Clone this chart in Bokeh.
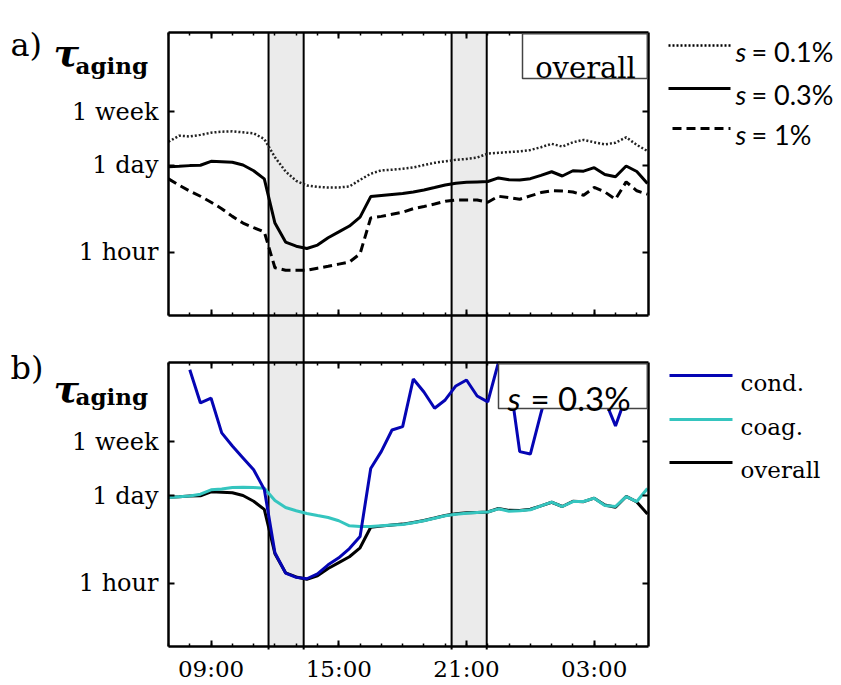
import math
from bokeh.plotting import figure
from bokeh.models import (Range1d, FixedTicker, LinearAxis, LogAxis, LogScale,
                          Label, BoxAnnotation, Arrow)
from bokeh.embed import file_html
from bokeh.resources import INLINE

nan = float("nan")

# ---------------- data (time in hours since 00:00 of day 1, tau in hours) ----
time_h = [7.0, 7.5, 8.0, 8.5, 9.0, 9.5, 10.0, 10.5, 11.0, 11.5, 12.0, 12.5,
          13.0, 13.5, 14.0, 14.5, 15.0, 15.5, 16.0, 16.5, 17.0, 17.5, 18.0,
          18.5, 19.0, 19.5, 20.0, 20.5, 21.0, 21.5, 22.0, 22.5, 23.0, 23.5,
          24.0, 24.5, 25.0, 25.5, 26.0, 26.5, 27.0, 27.5, 28.0, 28.5, 29.0,
          29.5]

tau_s01 = [56, 70, 68, 72, 78, 81, 82, 79, 76, 62, 32, 19, 13.5, 11.4, 10.8,
           10.6, 10.6, 11.0, 14.0, 17.5, 19.8, 20.2, 21.0, 22.0, 24.0, 26.0,
           27.5, 29.0, 30.0, 31.5, 36.5, 37.5, 38.5, 39.5, 41.5, 46, 52, 47,
           55, 60, 55, 51, 54, 66, 50, 40]

tau_s03 = [22.6, 23.0, 23.5, 23.8, 27.5, 27.0, 26.5, 24.0, 19.5, 14.5, 2.9,
           1.45, 1.25, 1.15, 1.3, 1.7, 2.1, 2.6, 3.6, 7.6, 7.9, 8.2, 8.5, 9.0,
           9.7, 10.6, 11.6, 12.4, 12.8, 13.0, 13.2, 15.0, 14.0, 13.9, 14.6,
           16.5, 18.8, 16.1, 19.5, 19.2, 21.8, 17.0, 15.7, 23.2, 19.0, 12.3]

tau_s1 = [14.5, 11.5, 9.3, 7.7, 6.2, 4.9, 3.7, 2.9, 2.45, 2.1, 0.57, 0.52,
          0.52, 0.52, 0.56, 0.6, 0.65, 0.7, 0.95, 3.5, 3.7, 4.0, 4.3, 4.9, 5.3,
          5.8, 6.4, 6.7, 6.7, 6.7, 6.2, 7.7, 7.3, 6.9, 7.8, 8.8, 9.4, 9.3, 9.0,
          8.0, 10.6, 9.0, 6.9, 13.0, 9.4, 8.3]

tau_cond = [nan, nan, 2300, 690, 820, 233, 145, 94, 61, 30, 3.0, 1.44, 1.23,
            1.17, 1.4, 1.94, 2.5, 3.5, 5.4, 64, 119, 259, 293, 1650, 1030,
            570, 770, 1280, 1590, 890, 720, 3000, 1900, 118, 108, 480, 2000,
            2200, 2000, 1800, 2000, 770, 300, 890, 1500, 1500]

tau_coag = [22.3, 23.0, 23.5, 25.2, 29.5, 30.5, 32.0, 32.5, 32.0, 31.3, 20.0,
            15.5, 13.8, 12.5, 11.6, 10.8, 9.6, 8.0, 7.8, 7.8, 8.0, 8.2, 8.4,
            8.9, 9.6, 10.5, 11.5, 12.2, 12.6, 12.9, 13.2, 14.8, 13.6, 13.8,
            14.3, 16.5, 18.9, 16.1, 19.3, 19.3, 21.8, 16.7, 16.1, 23.1, 19.3,
            31.0]

band_start = [11.7, 20.3]
band_end = [13.35, 21.95]

x_major_ticks = [9, 15, 21, 27]
x_major_labels = ["09:00", "15:00", "21:00", "03:00"]
x_minor_ticks = list(range(7, 30))
y_ticks = [1, 24, 168]
y_labels = ["1 hour", "1 day", "1 week"]

legend_a = ["0.1%", "0.3%", "1%"]
legend_b = ["cond.", "coag.", "overall"]

# ---------------- layout (canvas pixels) ----------------
W, H = 840, 684
BOX_L, BOX_R = 168, 648            # both panels share the horizontal extent
A_TOP, A_BOT = 32, 315             # panel a box
B_TOP, B_BOT = 362, 646            # panel b box
X_START, X_END = 7.0, 29.55
Y_START, Y_END = 0.1, 3000.0
LOG0, LOG1 = math.log10(Y_START), math.log10(Y_END)

PX_PER_H = (BOX_R - BOX_L) / (X_END - X_START)
PPD_A = (A_BOT - A_TOP) / (LOG1 - LOG0)
PPD_B = (B_BOT - B_TOP) / (LOG1 - LOG0)


def x_at(px):
    return X_START + (px - BOX_L) / PX_PER_H


def ya_at(py):
    return 10 ** (LOG1 - (py - A_TOP) / PPD_A)


def yb_at(py):
    return 10 ** (LOG1 - (py - B_TOP) / PPD_B)


BLUE = "#0505b4"
CYAN = "#35c5bf"
BAND = "#ebebeb"
SERIF = "DejaVu Serif"
SANS = "Lato"
DOTS = "2 2"
DASHES = "9 5"

p = figure(width=W, height=H, x_range=Range1d(x_at(0), x_at(W)),
           y_range=Range1d(ya_at(H), ya_at(0)), y_axis_type="log",
           x_axis_location=None, y_axis_location=None,
           min_border_left=0, min_border_right=0, min_border_top=0,
           min_border_bottom=0, output_backend="svg", toolbar_location=None)
p.extra_y_ranges = {"b": Range1d(yb_at(H), yb_at(0))}
p.extra_y_scales = {"b": LogScale()}
p.grid.visible = False
p.outline_line_color = None


def tick_style(ax, length, width):
    ax.major_tick_in = length
    ax.major_tick_out = 0
    ax.major_tick_line_width = width
    ax.major_tick_line_color = "black"
    ax.minor_tick_in = length
    ax.minor_tick_out = 0
    ax.minor_tick_line_width = width
    ax.minor_tick_line_color = "black"


def add_box_axes(rng, x_labels):
    yname = "default" if rng == "a" else "b"
    # left, labelled
    left = LogAxis(y_range_name=yname, fixed_location=X_START,
                   bounds=(Y_START, Y_END),
                   ticker=FixedTicker(ticks=y_ticks, minor_ticks=[]))
    tick_style(left, 6, 2)
    left.axis_line_width = 2.5
    left.major_label_overrides = dict(zip(y_ticks, y_labels))
    left.major_label_text_font = SERIF
    left.major_label_text_font_size = "24px"
    left.major_label_text_color = "black"
    left.major_label_standoff = 10
    p.add_layout(left, "left")
    # right, ticks only
    right = LogAxis(y_range_name=yname, fixed_location=X_END,
                    bounds=(Y_START, Y_END),
                    ticker=FixedTicker(ticks=[], minor_ticks=y_ticks))
    tick_style(right, 6, 2)
    right.axis_line_width = 2.5
    p.add_layout(right, "right")
    # top and bottom
    for side, loc in (("above", Y_END), ("below", Y_START)):
        labelled = x_labels and side == "below"
        if labelled:
            ax = LinearAxis(y_range_name=yname, fixed_location=loc,
                            bounds=(X_START, X_END),
                            ticker=FixedTicker(ticks=x_major_ticks,
                                               minor_ticks=x_minor_ticks))
            tick_style(ax, 6, 2)
            ax.minor_tick_in = 3
            ax.minor_tick_line_width = 1.5
            ax.major_label_overrides = dict(zip(x_major_ticks, x_major_labels))
            ax.major_label_text_font = SERIF
            ax.major_label_text_font_size = "23px"
            ax.major_label_text_color = "black"
            ax.major_label_standoff = 9
            ax.axis_line_width = 2.5
            p.add_layout(ax, side)
        else:
            small = LinearAxis(y_range_name=yname, fixed_location=loc,
                               bounds=(X_START, X_END),
                               ticker=FixedTicker(ticks=[],
                                                  minor_ticks=x_minor_ticks))
            tick_style(small, 3, 1.5)
            small.axis_line_width = 2.5
            p.add_layout(small, side)
            big = LinearAxis(y_range_name=yname, fixed_location=loc,
                             bounds=(X_START, X_END),
                             ticker=FixedTicker(ticks=[],
                                                minor_ticks=x_major_ticks))
            tick_style(big, 6, 2)
            big.axis_line_color = None
            p.add_layout(big, side)


# ---------------- shaded periods (spanning both panels) ----------------
p.quad(left=band_start, right=band_end, bottom=Y_START, top=yb_at(A_TOP),
       y_range_name="b", fill_color=BAND, line_color=None)
edges = band_start + band_end
p.segment(x0=edges, y0=yb_at(B_BOT + 3), x1=edges, y1=yb_at(A_TOP),
          y_range_name="b", line_color="black", line_width=2)

# ---------------- panel a ----------------
p.line(time_h, tau_s01, line_color="#222222", line_width=2.5, line_dash=DOTS)
p.line(time_h, tau_s03, line_color="black", line_width=3)
p.line(time_h, tau_s1, line_color="black", line_width=3, line_dash=DASHES)

# ---------------- panel b ----------------
p.line(time_h, tau_s03, y_range_name="b", line_color="black", line_width=3)
p.line(time_h, tau_coag, y_range_name="b", line_color=CYAN, line_width=3)
p.line(time_h, tau_cond, y_range_name="b", line_color=BLUE, line_width=3)

add_box_axes("a", False)
add_box_axes("b", True)


def add_text(px, py, text, font, size, style="normal", align="left"):
    p.add_layout(Label(x=x_at(px), y=ya_at(py), text=text,
                       text_font=font, text_font_size=size,
                       text_font_style=style, text_color="black",
                       text_align=align, text_baseline="alphabetic"))


def add_sample(px0, px1, py, color, width, dash="solid"):
    p.add_layout(Arrow(x_start=x_at(px0), y_start=ya_at(py),
                       x_end=x_at(px1), y_end=ya_at(py), end=None,
                       line_color=color, line_width=width, line_dash=dash))


def add_box(px0, py1):
    p.add_layout(BoxAnnotation(left=x_at(px0), right=x_at(BOX_R - 1.2),
                               top=ya_at(py1 + 1.2), bottom=ya_at(py1 + 46),
                               fill_color="white", fill_alpha=1,
                               line_color="#444444", line_alpha=1,
                               line_width=1.5))


# panel a annotations
add_box(522, A_TOP)
add_text(585, 67, "overall", SERIF, "29px", align="center")
add_text(10, 44, "a)", SERIF, "32px")
add_text(53, 52, "τ", SERIF, "38px", "bold italic")
add_text(75, 65, "aging", SERIF, "23px", "bold")

dashes_a = [DOTS, "solid", DASHES]
widths_a = [2.5, 3, 3]
starts_a = [668, 668, 672]
rows_a = [45, 88, 128]
for lab, dsh, wd, x0, py in zip(legend_a, dashes_a, widths_a, starts_a, rows_a):
    add_sample(x0, 730, py, "black", wd, dsh)
    add_text(735, py + 6, "s", SANS, "27px", "italic")
    add_text(751, py + 6, "= " + lab, SANS, "27px")

# panel b annotations
add_box(498, B_TOP)
add_text(507, 397, "s", SANS, "33px", "italic")
add_text(530, 397, "= 0.3%", SANS, "33px")
add_text(10, 367, "b)", SERIF, "32px")
add_text(53, 388, "τ", SERIF, "38px", "bold italic")
add_text(75, 396, "aging", SERIF, "23px", "bold")

colors_b = [BLUE, CYAN, "black"]
rows_b = [375, 419, 462]
for lab, col, py in zip(legend_b, colors_b, rows_b):
    add_sample(669, 732, py, col, 3)
    add_text(740, py + 7, lab, SERIF, "23px")

open("out.html", "w").write(file_html(p, INLINE))
